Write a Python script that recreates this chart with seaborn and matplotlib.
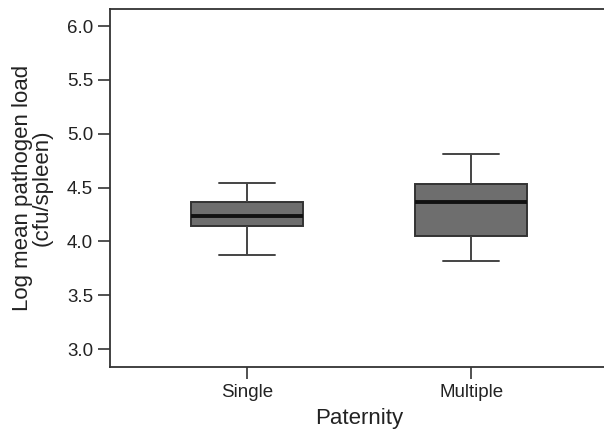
import pandas as pd
import numpy as np
import matplotlib
matplotlib.use('Agg')
import matplotlib.pyplot as plt
import seaborn as sns

# five-number summaries (min, Q1, median, Q3, max)
categories = ['Single', 'Multiple']
single_vals = [3.87, 4.14, 4.24, 4.37, 4.54]
multiple_vals = [3.82, 4.05, 4.37, 4.53, 4.81]
y_ticks = [3.0, 3.5, 4.0, 4.5, 5.0, 5.5, 6.0]

data = pd.DataFrame({
    'Paternity': [categories[0]] * len(single_vals) + [categories[1]] * len(multiple_vals),
    'load': single_vals + multiple_vals,
})

sns.set_style('ticks')
plt.rcParams['font.family'] = ['Liberation Sans', 'DejaVu Sans']

fig = plt.figure(figsize=(6.04, 4.29), dpi=100)
ax = fig.add_axes([110 / 604, 62 / 429, 498 / 604, 358 / 429])

sns.boxplot(data=data, x='Paternity', y='load', order=categories, ax=ax,
            color='#6e6e6e', width=0.5, whis=3.0, linecolor='#333333', linewidth=1.4,
            medianprops=dict(color='#111111', linewidth=2.8),
            whiskerprops=dict(color='#444444', linewidth=1.4),
            capprops=dict(color='#444444', linewidth=1.4),
            capwidths=0.25, showfliers=False)
for p in ax.patches:
    p.set_facecolor('#6e6e6e')
    p.set_edgecolor('#333333')

ax.set_xlim(-0.61, 1.61)
ax.set_ylim(2.833, 6.158)
ax.set_yticks(y_ticks)
ax.set_yticklabels([f'{v:.1f}' for v in y_ticks])

for side in ['left', 'top', 'bottom', 'right']:
    ax.spines[side].set_color('#333333')
    ax.spines[side].set_linewidth(1.3)
ax.spines['right'].set_visible(False)

ax.tick_params(axis='both', direction='out', length=8.6, width=1.2, color='#333333',
               labelsize=13.5, labelcolor='#222222', pad=3.5)
ax.set_xlabel('Paternity', fontsize=16, color='#222222', labelpad=5)
ax.set_ylabel('Log mean pathogen load\n(cfu/spleen)', fontsize=16, color='#222222',
              labelpad=10, linespacing=0.95)

fig.savefig('out.png', dpi=100)
